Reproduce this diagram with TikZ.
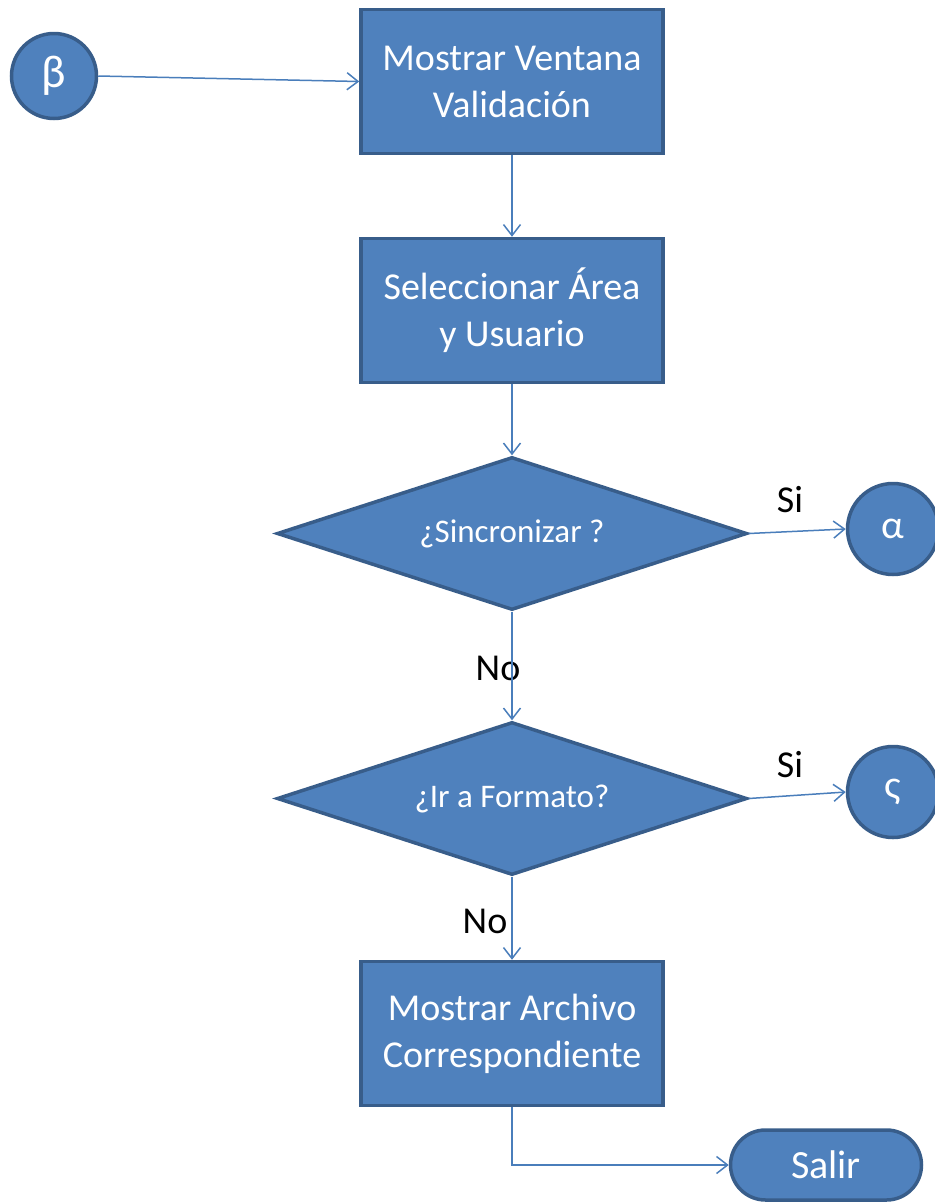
\documentclass[tikz,border=0pt]{standalone}
\usepackage{fontspec}
\setmainfont{Carlito}
\usetikzlibrary{shapes.geometric,arrows.meta}
\definecolor{pfill}{HTML}{4F81BD}
\definecolor{pborder}{HTML}{385D8A}
\definecolor{pline}{HTML}{4A7EBB}
\tikzset{
  procbox/.style={rectangle, fill=pfill, draw=pborder, line width=3.5pt, minimum width=302pt, minimum height=144pt, text=white, align=center, inner sep=0pt, font=\fontsize{38}{47}\selectfont},
  decis/.style={diamond, shape aspect=3, fill=pfill, draw=pborder, line width=3.5pt, minimum width=470pt, minimum height=153pt, text=white, inner sep=0pt, font=\fontsize{33}{38}\selectfont},
  conn/.style={circle, fill=pfill, draw=pborder, line width=3.5pt, minimum size=85pt, inner sep=0pt, text=white, font=\fontsize{46}{50}\selectfont},
  term/.style={rectangle, rounded corners=35pt, fill=pfill, draw=pborder, line width=3.5pt, minimum width=191pt, minimum height=70pt, text=white, inner sep=0pt, font=\fontsize{40}{44}\selectfont},
  flow/.style={draw=pline, line width=1.5pt, -{Straight Barb[length=11pt,width=17pt,line width=1.5pt]}},
  lbl/.style={text=black, inner sep=0pt, font=\fontsize{38}{42}\selectfont}
}
\begin{document}
\begin{tikzpicture}[x=1pt,y=-1pt]
\useasboundingbox (0,0) rectangle (935,1203);
\node[conn] (beta) at (54,76) {β};
\node[procbox] (b1) at (512,81.5) {Mostrar Ventana\\Validación};
\node[procbox] (b2) at (512,310.5) {Seleccionar Área\\y Usuario};
\node[decis] (d1) at (512,533.5) {¿Sincronizar ?};
\node[conn, minimum size=91pt, font=\fontsize{40}{44}\selectfont] (alpha) at (893,529) {α};
\node[decis] (d2) at (512,798.5) {¿Ir a Formato?};
\node[conn, minimum size=91pt, font=\fontsize{40}{44}\selectfont] (sigma) at (893,792) {ς};
\node[procbox] (b3) at (512,1033.5) {Mostrar Archivo\\Correspondiente};
\node[term] (salir) at (826,1165) {Salir};
\node[lbl] (si1) at (790,500) {Si};
\node[lbl] (no1) at (498,668) {No};
\node[lbl] (si2) at (790,765) {Si};
\node[lbl] (no2) at (485,921) {No};
\draw[flow] (beta.east) -- (b1.west);
\draw[flow] (b1.south) -- (b2.north);
\draw[flow] (b2.south) -- (d1.north);
\draw[flow] (d1.east) -- (alpha.west);
\draw[flow] (d1.south) -- (d2.north);
\draw[flow] (d2.east) -- (sigma.west);
\draw[flow] (d2.south) -- (b3.north);
\draw[flow] (b3.south) |- (salir.west);
\end{tikzpicture}
\end{document}
